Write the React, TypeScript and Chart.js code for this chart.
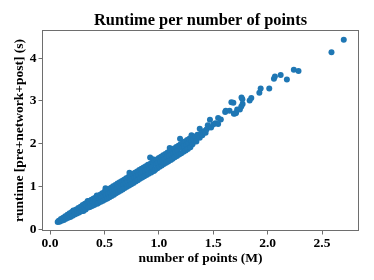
import React, { useEffect, useRef } from "react";
import { Chart, registerables } from "chart.js";

Chart.register(...registerables);

const chartTitle = "Runtime per number of points";
const xAxisLabel = "number of points (M)";
const yAxisLabel = "runtime [pre+network+post] (s)";
const xTickValues = [0, 0.5, 1.0, 1.5, 2.0, 2.5];
const yTickValues = [0, 1, 2, 3, 4];

// number of points (millions)
const numPointsM = [
  0.070, 0.080, 0.087, 0.094,
  0.100, 0.107, 0.114,
  0.120, 0.127, 0.134,
  0.140, 0.147, 0.154,
  0.160, 0.167, 0.174,
  0.180, 0.187, 0.194,
  0.200, 0.207, 0.214,
  0.220, 0.227, 0.234,
  0.240, 0.247, 0.254,
  0.260, 0.267, 0.274,
  0.280, 0.287, 0.294,
  0.300, 0.307, 0.314,
  0.320, 0.327, 0.334,
  0.340, 0.346, 0.352,
  0.360, 0.367, 0.374,
  0.380, 0.387, 0.394,
  0.400, 0.407, 0.414,
  0.420, 0.430, 0.434,
  0.440, 0.447, 0.454,
  0.460, 0.467, 0.474,
  0.480, 0.487, 0.494,
  0.500, 0.507, 0.510, 0.514,
  0.520, 0.527, 0.534,
  0.540, 0.547, 0.554,
  0.560, 0.567, 0.574,
  0.580, 0.587, 0.594,
  0.600, 0.607, 0.614,
  0.620, 0.627, 0.634,
  0.640, 0.647, 0.654,
  0.660, 0.667, 0.674,
  0.680, 0.687, 0.694,
  0.700, 0.707, 0.714,
  0.720, 0.727, 0.730, 0.734,
  0.740, 0.747, 0.754,
  0.760, 0.767, 0.774,
  0.780, 0.787, 0.794,
  0.800, 0.807, 0.814,
  0.820, 0.827, 0.834,
  0.840, 0.847, 0.854,
  0.860, 0.867, 0.874,
  0.880, 0.887, 0.894,
  0.900, 0.907, 0.914,
  0.920, 0.925, 0.930, 0.936, 0.945,
  0.950, 0.955,
  0.960, 0.967, 0.974,
  0.980, 0.987, 0.994,
  1.000, 1.007, 1.014,
  1.020, 1.027, 1.034,
  1.040, 1.047, 1.054,
  1.060, 1.067, 1.074,
  1.080, 1.087, 1.094,
  1.100, 1.104, 1.110, 1.116,
  1.120, 1.127, 1.134,
  1.140, 1.147, 1.154,
  1.160, 1.167, 1.174,
  1.180, 1.187, 1.195,
  1.200, 1.207, 1.214,
  1.220, 1.227, 1.234,
  1.240, 1.247, 1.254,
  1.260, 1.267, 1.274,
  1.280, 1.290, 1.298,
  1.300, 1.310, 1.320,
  1.335, 1.345, 1.355,
  1.376, 1.376, 1.390, 1.400,
  1.420, 1.430, 1.450, 1.440,
  1.470, 1.480, 1.500, 1.520, 1.545, 1.545, 1.570,
  1.610, 1.615, 1.650, 1.685, 1.667, 1.690, 1.700, 1.710, 1.720, 1.745,
  1.758, 1.770, 1.768, 1.760, 1.835, 1.850, 1.924, 1.936, 2.015, 2.058,
  2.067, 2.120, 2.177, 2.241, 2.284, 2.587, 2.700,
];

// runtime [pre+network+post] (seconds)
const runtimeSec = [
  0.170, 0.200, 0.175, 0.205,
  0.240, 0.200, 0.235,
  0.272, 0.220, 0.262,
  0.305, 0.245, 0.290,
  0.340, 0.268, 0.318,
  0.375, 0.290, 0.345,
  0.405, 0.315, 0.440,
  0.435, 0.345, 0.400,
  0.465, 0.370, 0.430,
  0.495, 0.395, 0.465,
  0.525, 0.420, 0.490,
  0.570, 0.430, 0.520,
  0.600, 0.460, 0.548,
  0.625, 0.660, 0.510,
  0.660, 0.520, 0.605,
  0.690, 0.545, 0.635,
  0.720, 0.570, 0.665,
  0.745, 0.790, 0.600,
  0.780, 0.620, 0.720,
  0.810, 0.645, 0.750,
  0.840, 0.670, 0.775,
  0.875, 0.695, 0.960, 0.800,
  0.905, 0.720, 0.830,
  0.940, 0.750, 0.860,
  0.970, 0.780, 0.895,
  1.005, 0.810, 0.925,
  1.035, 0.840, 0.960,
  1.070, 0.870, 0.990,
  1.100, 0.900, 1.020,
  1.130, 0.930, 1.055,
  1.160, 0.965, 1.085,
  1.195, 0.995, 1.115,
  1.225, 1.025, 1.320, 1.150,
  1.255, 1.055, 1.180,
  1.290, 1.085, 1.210,
  1.320, 1.115, 1.245,
  1.350, 1.145, 1.275,
  1.385, 1.180, 1.305,
  1.415, 1.210, 1.335,
  1.445, 1.240, 1.370,
  1.475, 1.270, 1.400,
  1.510, 1.300, 1.430,
  1.680, 1.540, 1.330, 1.460, 1.640,
  1.570, 1.365,
  1.600, 1.395, 1.520,
  1.630, 1.425, 1.555,
  1.665, 1.460, 1.585,
  1.695, 1.490, 1.620,
  1.730, 1.525, 1.650,
  1.760, 1.555, 1.685,
  1.795, 1.585, 1.715,
  1.900, 1.825, 1.620, 1.750,
  1.860, 1.650, 1.780,
  1.890, 1.685, 1.815,
  1.925, 1.715, 1.845,
  1.955, 1.750, 2.120,
  1.990, 1.780, 1.910,
  2.020, 1.815, 1.945,
  2.055, 1.845, 1.975,
  2.085, 1.880, 2.010,
  2.120, 1.920, 2.050,
  2.200, 1.990, 2.100,
  2.170, 2.050, 2.210,
  2.350, 2.140, 2.250, 2.200,
  2.300, 2.260, 2.430, 2.340,
  2.560, 2.380, 2.450, 2.480, 2.600, 2.460, 2.570,
  2.740, 2.770, 2.770, 2.960, 2.970, 2.700, 2.710, 2.720, 2.800, 2.800,
  2.870, 2.930, 3.040, 3.080, 3.010, 3.070, 3.190, 3.290, 3.290, 3.520,
  3.570, 3.610, 3.500, 3.730, 3.700, 4.140, 4.430,
];

const FONT = "'Liberation Serif', 'Times New Roman', serif";
const FRAME = "#6e6e6e";

export default function App() {
  const canvasRef = useRef<HTMLCanvasElement | null>(null);

  useEffect(() => {
    const canvas = canvasRef.current;
    if (!canvas) return;
    const points = numPointsM.map((x, i) => ({ x, y: runtimeSec[i] }));

    const framePlugin = {
      id: "frameAndTitle",
      afterDraw(chart: any) {
        const { ctx, chartArea } = chart;
        ctx.save();
        ctx.strokeStyle = FRAME;
        ctx.lineWidth = 1;
        ctx.strokeRect(
          Math.round(chartArea.left) + 0.5,
          Math.round(chartArea.top) + 0.5,
          Math.round(chartArea.right - chartArea.left) - 1,
          Math.round(chartArea.bottom - chartArea.top) - 1
        );
        ctx.fillStyle = "#000";
        ctx.font = `bold 16.4px ${FONT}`;
        ctx.textAlign = "center";
        ctx.textBaseline = "alphabetic";
        ctx.fillText(chartTitle, (chartArea.left + chartArea.right) / 2, 25);
        ctx.restore();
      },
    };

    const chart = new Chart(canvas, {
      type: "scatter",
      data: {
        datasets: [
          {
            data: points,
            backgroundColor: "#1f77b4",
            borderColor: "#1f77b4",
            borderWidth: 0,
            pointRadius: 3,
            pointHoverRadius: 3,
          },
        ],
      },
      options: {
        animation: false,
        responsive: false,
        devicePixelRatio: 1,
        layout: { padding: { top: 30, right: 15, left: 0, bottom: 0 } },
        plugins: {
          legend: { display: false },
          tooltip: { enabled: false },
          title: { display: false },
        },
        scales: {
          x: {
            type: "linear",
            min: -0.074,
            max: 2.84,
            afterFit: (s: any) => {
              s.height = 49;
            },
            afterBuildTicks: (s: any) => {
              s.ticks = xTickValues.map((v) => ({ value: v }));
            },
            ticks: {
              includeBounds: false,
              callback: (v: any) => Number(v).toFixed(1),
              font: { family: FONT, weight: "bold", size: 13.5 },
              color: "#000",
              padding: 1,
              maxRotation: 0,
            },
            grid: {
              display: true,
              drawOnChartArea: false,
              drawTicks: true,
              tickLength: 3.5,
              color: FRAME,
            },
            border: { display: false },
            title: {
              display: true,
              text: xAxisLabel,
              font: { family: FONT, weight: "bold", size: 13.5 },
              color: "#000",
              padding: { top: 0, bottom: 13.6 },
            },
          },
          y: {
            type: "linear",
            min: -0.04,
            max: 4.66,
            afterFit: (s: any) => {
              s.width = 42;
            },
            afterBuildTicks: (s: any) => {
              s.ticks = yTickValues.map((v) => ({ value: v }));
            },
            ticks: {
              includeBounds: false,
              callback: (v: any) => String(v),
              font: { family: FONT, weight: "bold", size: 13.5 },
              color: "#000",
              padding: 2,
            },
            grid: {
              display: true,
              drawOnChartArea: false,
              drawTicks: true,
              tickLength: 3.5,
              color: FRAME,
            },
            border: { display: false },
            title: {
              display: true,
              text: yAxisLabel,
              font: { family: FONT, weight: "bold", size: 13.5 },
              color: "#000",
              padding: { top: 11.9, bottom: 0 },
            },
          },
        },
      },
      plugins: [framePlugin],
    });

    return () => chart.destroy();
  }, []);

  return (
    <div style={{ position: "absolute", left: 0, top: 0, width: 374, height: 280, background: "#fff" }}>
      <canvas ref={canvasRef} width={374} height={280} style={{ display: "block" }} />
    </div>
  );
}
